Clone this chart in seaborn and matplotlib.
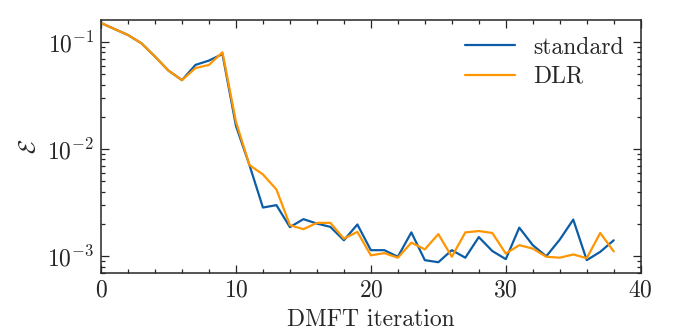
import numpy as np
import pandas as pd
import seaborn as sns
import matplotlib.pyplot as plt

# DMFT convergence error per iteration
iterations = list(range(39))
standard = [0.150, 0.132, 0.116, 0.097, 0.073, 0.054, 0.044, 0.061, 0.067, 0.077,
            0.0165, 0.0071, 0.00285, 0.0030, 0.00187, 0.00222, 0.00202, 0.00188, 0.00141, 0.00198,
            0.00114, 0.00114, 0.00099, 0.00167, 0.00092, 0.00088, 0.00114, 0.00097, 0.00151, 0.00112,
            0.00094, 0.00185, 0.00127, 0.00100, 0.00143, 0.00220, 0.00092, 0.00110, 0.00141]
dlr = [0.150, 0.132, 0.116, 0.097, 0.073, 0.054, 0.044, 0.057, 0.061, 0.080,
       0.0180, 0.0071, 0.0058, 0.0042, 0.00195, 0.00179, 0.00205, 0.00205, 0.00146, 0.00169,
       0.00102, 0.00107, 0.00097, 0.00134, 0.00116, 0.00161, 0.00099, 0.00167, 0.00172, 0.00165,
       0.00106, 0.00127, 0.00118, 0.00099, 0.00097, 0.00104, 0.00096, 0.00165, 0.00111]

df = pd.DataFrame({
    "iteration": iterations * 2,
    "error": standard + dlr,
    "method": ["standard"] * len(standard) + ["DLR"] * len(dlr),
})

sns.set_style("ticks")
plt.rcParams["font.family"] = "serif"
plt.rcParams["font.serif"] = ["cmr10", "DejaVu Serif"]
plt.rcParams["mathtext.fontset"] = "cm"
plt.rcParams["axes.formatter.use_mathtext"] = True
plt.rcParams["font.size"] = 17

fig = plt.figure(figsize=(6.78, 3.34), dpi=100)
ax = fig.add_axes([0.149, 0.183, 0.796, 0.757])

sns.lineplot(data=df, x="iteration", y="error", hue="method",
             palette={"standard": "#0C5DA5", "DLR": "#FF9500"},
             linewidth=1.6, ax=ax)

ax.set_yscale("log")
ax.set_xlim(0, 40)
ax.set_ylim(7e-4, 0.16)
ax.set_xticks([0, 10, 20, 30, 40])
ax.xaxis.set_minor_locator(plt.MultipleLocator(2))
ax.set_xlabel("DMFT iteration", labelpad=5)
ax.set_ylabel(r"$\mathcal{E}$", labelpad=5)

for s in ax.spines.values():
    s.set_linewidth(1.1)
ax.tick_params(which="both", direction="in", top=True, right=True, width=0.9, labelsize=17)
ax.tick_params(which="major", length=5.5, pad=5)
ax.tick_params(which="minor", length=2.7)

ax.legend(title=None, frameon=False, loc="upper right", fontsize=17,
          handlelength=2.1, borderaxespad=0.3, labelspacing=0.3)

fig.savefig("out.png", dpi=100)
